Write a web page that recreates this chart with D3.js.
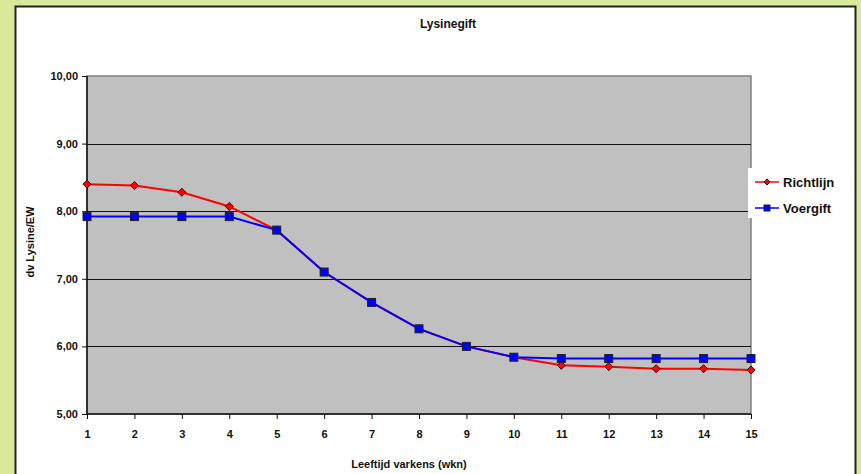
<!DOCTYPE html>
<html>
<head>
<meta charset="utf-8">
<script src="https://cdn.jsdelivr.net/npm/d3@7"></script>
<style>
body { margin: 0; background: #d9e99b; }
svg { display: block; font-family: Arial, "Liberation Sans", sans-serif; font-weight: bold; }
</style>
</head>
<body>
<script>
var weeks = [1, 2, 3, 4, 5, 6, 7, 8, 9, 10, 11, 12, 13, 14, 15];
var richtlijn = [8.40, 8.38, 8.28, 8.07, 7.72, 7.10, 6.65, 6.26, 6.00, 5.84, 5.72, 5.70, 5.67, 5.67, 5.65];
var voergift = [7.92, 7.92, 7.92, 7.92, 7.72, 7.10, 6.65, 6.26, 6.00, 5.84, 5.82, 5.82, 5.82, 5.82, 5.82];
var yTicks = [5, 6, 7, 8, 9, 10];
var seriesNames = ["Richtlijn", "Voergift"];

var W = 861, H = 474;
var plot = {left: 87, right: 751, top: 76, bottom: 414};

var svg = d3.select("body")
	.append("svg")
	.attr("width", W)
	.attr("height", H);

// chart area
svg.append("rect")
	.attr("x", 15.5).attr("y", 6.5)
	.attr("width", 840).attr("height", H)
	.attr("fill", "white")
	.attr("stroke", "#222")
	.attr("stroke-width", 2);

var x = d3.scaleLinear().domain([1, 15]).range([plot.left, plot.right]);
var y = d3.scaleLinear().domain([5, 10]).range([plot.bottom, plot.top]);

svg.append("rect")
	.attr("x", plot.left).attr("y", plot.top)
	.attr("width", plot.right - plot.left).attr("height", plot.bottom - plot.top)
	.attr("fill", "#c0c0c0")
	.attr("stroke", "#808080")
	.attr("stroke-width", 1.5);

// gridlines
svg.append("g")
	.selectAll("line")
	.data(yTicks.filter(function (d) { return d > 5 && d < 10; }))
	.join("line")
	.attr("x1", plot.left).attr("x2", plot.right)
	.attr("y1", function (d) { return Math.round(y(d)) + 0.5; })
	.attr("y2", function (d) { return Math.round(y(d)) + 0.5; })
	.attr("stroke", "#111")
	.attr("stroke-width", 1);

var fmt = function (d) { return d3.format(".2f")(d).replace(".", ","); };

var yAxis = svg.append("g")
	.attr("transform", "translate(" + plot.left + ",0)")
	.call(d3.axisLeft(y).tickValues(yTicks).tickFormat(fmt).tickSize(5).tickPadding(4));
yAxis.selectAll("text").attr("font-size", "11px").attr("fill", "#111");

var xAxis = svg.append("g")
	.attr("transform", "translate(0," + plot.bottom + ")")
	.call(d3.axisBottom(x).tickValues(weeks).tickFormat(d3.format("d")).tickSize(5).tickPadding(11));
xAxis.selectAll("text").attr("font-size", "11px").attr("fill", "#111");

svg.selectAll(".domain").attr("stroke", "#111").attr("stroke-width", 1.5);
svg.selectAll(".tick line").attr("stroke", "#111");
yAxis.select(".domain").attr("d", "M0," + plot.top + "V" + plot.bottom);
xAxis.select(".domain").attr("d", "M" + plot.left + ",0H" + plot.right);

// series
var line = d3.line()
	.x(function (d, i) { return x(weeks[i]); })
	.y(function (d) { return y(d); });

svg.append("path")
	.datum(richtlijn)
	.attr("d", line)
	.attr("fill", "none")
	.attr("stroke", "red")
	.attr("stroke-width", 2);

svg.append("path")
	.datum(voergift)
	.attr("d", line)
	.attr("fill", "none")
	.attr("stroke", "blue")
	.attr("stroke-width", 2);

var diamond = "M0,-4L4,0L0,4L-4,0Z";

svg.append("g")
	.selectAll("path")
	.data(richtlijn)
	.join("path")
	.attr("transform", function (d, i) { return "translate(" + x(weeks[i]) + "," + y(d) + ")"; })
	.attr("d", diamond)
	.attr("fill", "red")
	.attr("stroke", "#300")
	.attr("stroke-width", 1);

svg.append("g")
	.selectAll("rect")
	.data(voergift)
	.join("rect")
	.attr("x", function (d, i) { return x(weeks[i]) - 4; })
	.attr("y", function (d) { return y(d) - 4; })
	.attr("width", 8).attr("height", 8)
	.attr("fill", "blue")
	.attr("stroke", "#222")
	.attr("stroke-width", 1);

// titles
svg.append("text")
	.attr("x", 448).attr("y", 28)
	.attr("text-anchor", "middle")
	.attr("font-size", "12px")
	.attr("fill", "#111")
	.text("Lysinegift");

svg.append("text")
	.attr("transform", "translate(34,242) rotate(-90)")
	.attr("text-anchor", "middle")
	.attr("font-size", "11px")
	.attr("fill", "#111")
	.text("dv Lysine/EW");

svg.append("text")
	.attr("x", 409).attr("y", 468)
	.attr("text-anchor", "middle")
	.attr("font-size", "11px")
	.attr("fill", "#111")
	.text("Leeftijd varkens (wkn)");

// legend
var legend = svg.append("g");
legend.append("rect")
	.attr("x", 748).attr("y", 168)
	.attr("width", 106).attr("height", 50)
	.attr("fill", "white");

var legendItems = legend.selectAll("g")
	.data(seriesNames)
	.join("g")
	.attr("transform", function (d, i) { return "translate(755," + (182 + i * 26) + ")"; });
legendItems.append("line")
	.attr("x1", 0).attr("x2", 24)
	.attr("stroke", function (d, i) { return i === 0 ? "red" : "blue"; })
	.attr("stroke-width", 1.5);
legendItems.filter(function (d, i) { return i === 0; })
	.append("path")
	.attr("transform", "translate(12,0)")
	.attr("d", "M0,-3L3,0L0,3L-3,0Z")
	.attr("fill", "red").attr("stroke", "#300");
legendItems.filter(function (d, i) { return i === 1; })
	.append("rect")
	.attr("x", 9).attr("y", -3).attr("width", 6).attr("height", 6)
	.attr("fill", "blue").attr("stroke", "#222");
legendItems.append("text")
	.attr("x", 28).attr("y", 5)
	.attr("font-size", "13px")
	.attr("fill", "#111")
	.text(function (d) { return d; });
</script>
</body>
</html>
